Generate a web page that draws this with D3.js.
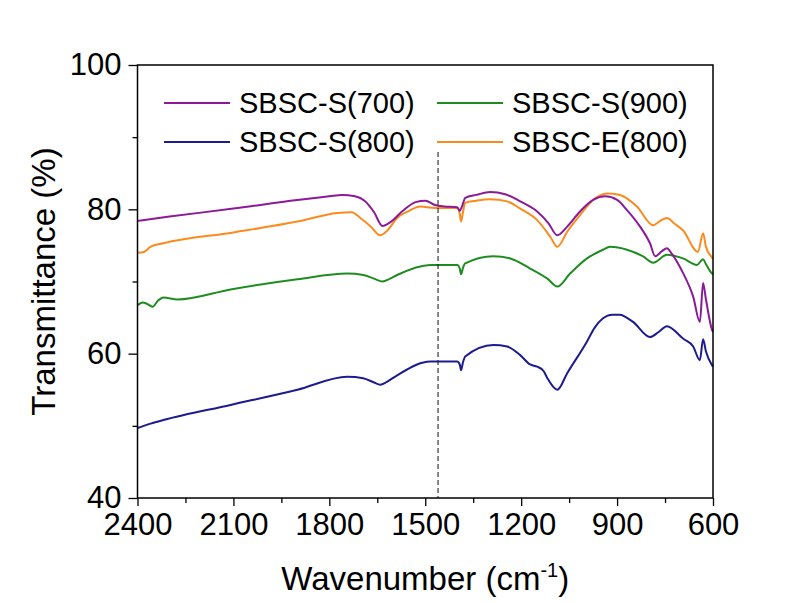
<!DOCTYPE html>
<html>
<head>
<meta charset="utf-8">
<script src="https://cdn.jsdelivr.net/npm/d3@7/dist/d3.min.js"></script>
<style>
  html, body { margin: 0; padding: 0; background: #fff; }
  svg { display: block; }
  text { font-family: "Liberation Sans", Arial, sans-serif; fill: #000; }
</style>
</head>
<body>
<svg id="chart" width="807" height="603"></svg>
<script>
// FTIR transmittance spectra, [wavenumber cm-1, transmittance %]
const s700 = [[2400,78.4],[2300,79.0],[2100,80.1],[1900,81.3],[1800,81.8],[1760,82.0],[1720,81.8],[1690,81.2],[1660,79.6],[1634,77.7],[1610,78.2],[1570,79.8],[1530,81.0],[1500,81.2],[1470,80.6],[1440,80.4],[1400,80.3],[1392,79.8],[1385,80.4],[1375,81.6],[1340,82.0],[1297,82.4],[1250,82.1],[1203,81.1],[1150,79.7],[1115,78.1],[1087,76.4],[1056,77.6],[1016,79.7],[975,81.3],[937,81.8],[900,81.3],[869,79.9],[828,77.6],[797,75.3],[781,73.5],[760,74.2],[744,74.6],[730,73.9],[694,71.2],[662,67.9],[641,64.4],[631,69.8],[622,67.5],[603,63.3],[600,63.0]];
const s800 = [[2400,49.7],[2359,50.3],[2319,50.8],[2109,52.9],[1900,55.0],[1744,56.8],[1694,56.6],[1660,56.0],[1641,55.7],[1620,56.1],[1588,57.0],[1484,58.9],[1400,58.9],[1392,58.5],[1388,57.7],[1382,58.8],[1375,59.6],[1287,61.2],[1244,61.0],[1203,59.8],[1172,58.5],[1150,58.2],[1130,57.6],[1118,56.6],[1087,55.0],[1056,57.3],[994,61.7],[970,63.6],[944,64.9],[915,65.4],[891,65.4],[870,65.0],[850,64.4],[797,62.3],[770,63.0],[744,63.8],[694,62.1],[662,61.0],[641,59.1],[631,62.0],[622,60.3],[603,58.4],[600,58.2]];
const s900 = [[2400,66.7],[2384,67.1],[2370,66.9],[2353,66.5],[2335,67.4],[2319,67.8],[2275,67.5],[2109,68.9],[1900,70.3],[1744,71.1],[1694,70.9],[1660,70.4],[1634,70.0],[1610,70.4],[1588,70.9],[1484,72.3],[1400,72.3],[1392,71.8],[1388,71.0],[1382,71.9],[1375,72.5],[1287,73.5],[1234,73.2],[1172,71.8],[1118,70.4],[1087,69.3],[1047,71.1],[994,73.2],[944,74.4],[922,74.8],[869,74.4],[820,73.5],[787,72.6],[744,73.7],[694,73.2],[650,72.3],[631,73.1],[622,72.4],[603,71.1],[600,71.0]];
const e800 = [[2400,74.0],[2380,74.1],[2360,74.8],[2319,75.3],[2100,76.8],[1900,78.3],[1775,79.5],[1730,79.6],[1703,78.8],[1670,77.6],[1641,76.4],[1620,77.0],[1588,78.8],[1550,79.8],[1516,80.4],[1470,80.2],[1400,80.2],[1392,79.4],[1388,78.3],[1382,79.6],[1375,80.9],[1340,81.2],[1297,81.4],[1244,81.1],[1203,80.1],[1150,78.5],[1109,76.2],[1087,74.8],[1056,76.9],[1016,79.2],[975,81.3],[931,82.2],[891,82.0],[838,80.4],[787,77.8],[765,78.4],[744,78.8],[720,78.0],[694,77.1],[647,74.1],[631,76.7],[622,74.8],[603,73.3],[600,73.1]];

const seriesNames = ["SBSC-S(700)", "SBSC-S(800)", "SBSC-S(900)", "SBSC-E(800)"];
const seriesColors = ["#8b1a98", "#1c1c8e", "#1f8c22", "#fb8b1e"];
const seriesData = [s700, s800, s900, e800];

const xTicks = [2400, 2100, 1800, 1500, 1200, 900, 600];
const xMinor = [2250, 1950, 1650, 1350, 1050, 750];
const yTicks = [40, 60, 80, 100];
const yMinor = [50, 70, 90];
const markerWn = 1460;

const L = 137.5, R = 713, T = 65, B = 498;
const svg = d3.select("#chart");
const x = d3.scaleLinear().domain([2400, 600]).range([L, R]);
const y = d3.scaleLinear().domain([40, 100]).range([B, T]);

// spectra
const line = d3.line().x(d => x(d[0])).y(d => y(d[1])).curve(d3.curveMonotoneX);
const order = [1, 2, 3, 0];
order.forEach(i => {
  svg.append("path")
    .datum(seriesData[i])
    .attr("d", line)
    .attr("fill", "none")
    .attr("stroke", seriesColors[i])
    .attr("stroke-width", 2)
    .attr("stroke-linejoin", "round");
});

// dashed reference line
svg.append("line")
  .attr("x1", x(markerWn)).attr("x2", x(markerWn))
  .attr("y1", 152).attr("y2", B)
  .attr("stroke", "#222").attr("stroke-width", 1.1)
  .attr("stroke-dasharray", "5,3");

// axes
const xAxis = d3.axisBottom(x).tickValues(xTicks).tickSize(8).tickPadding(7).tickFormat(d3.format("d"));
const gx = svg.append("g").attr("transform", `translate(0,${B})`).call(xAxis);
const xAxisMinor = d3.axisBottom(x).tickValues(xMinor).tickSize(5).tickFormat("");
const gxm = svg.append("g").attr("transform", `translate(0,${B})`).call(xAxisMinor);

const yAxis = d3.axisLeft(y).tickValues(yTicks).tickSize(9).tickPadding(7);
const gy = svg.append("g").attr("transform", `translate(${L},0)`).call(yAxis);
const yAxisMinor = d3.axisLeft(y).tickValues(yMinor).tickSize(5).tickFormat("");
const gym = svg.append("g").attr("transform", `translate(${L},0)`).call(yAxisMinor);

[gx, gxm, gy, gym].forEach(g => {
  g.select(".domain").remove();
  g.selectAll(".tick line").attr("stroke", "#000").attr("stroke-width", 1.3);
  g.selectAll(".tick text").style("font-size", "31px").attr("fill", "#000")
    .style("font-family", '"Liberation Sans", Arial, sans-serif');
});
gx.selectAll(".tick text").attr("dy", "0.72em");

// frame
svg.append("rect")
  .attr("x", L).attr("y", T).attr("width", R - L).attr("height", B - T)
  .attr("fill", "none").attr("stroke", "#000").attr("stroke-width", 1.5);

// axis titles
svg.append("text")
  .attr("transform", `translate(55,${(T + B) / 2}) rotate(-90)`)
  .attr("text-anchor", "middle")
  .style("font-size", "33px")
  .text("Transmittance (%)");

const xt = svg.append("text")
  .attr("x", (L + R) / 2).attr("y", 590)
  .attr("text-anchor", "middle")
  .style("font-size", "33px");
xt.append("tspan").text("Wavenumber (cm");
xt.append("tspan").attr("dy", -13).style("font-size", "20px").text("-1");
xt.append("tspan").attr("dy", 13).text(")");

// legend
const legendPos = [[164, 103], [164, 142], [437, 103], [437, 142]];
seriesNames.forEach((name, i) => {
  const [lx, ly] = legendPos[i];
  svg.append("line")
    .attr("x1", lx).attr("x2", lx + 66).attr("y1", ly).attr("y2", ly)
    .attr("stroke", seriesColors[i]).attr("stroke-width", 2);
  svg.append("text")
    .attr("x", lx + 75).attr("y", ly + 10)
    .style("font-size", "29px")
    .text(name);
});
</script>
</body>
</html>
